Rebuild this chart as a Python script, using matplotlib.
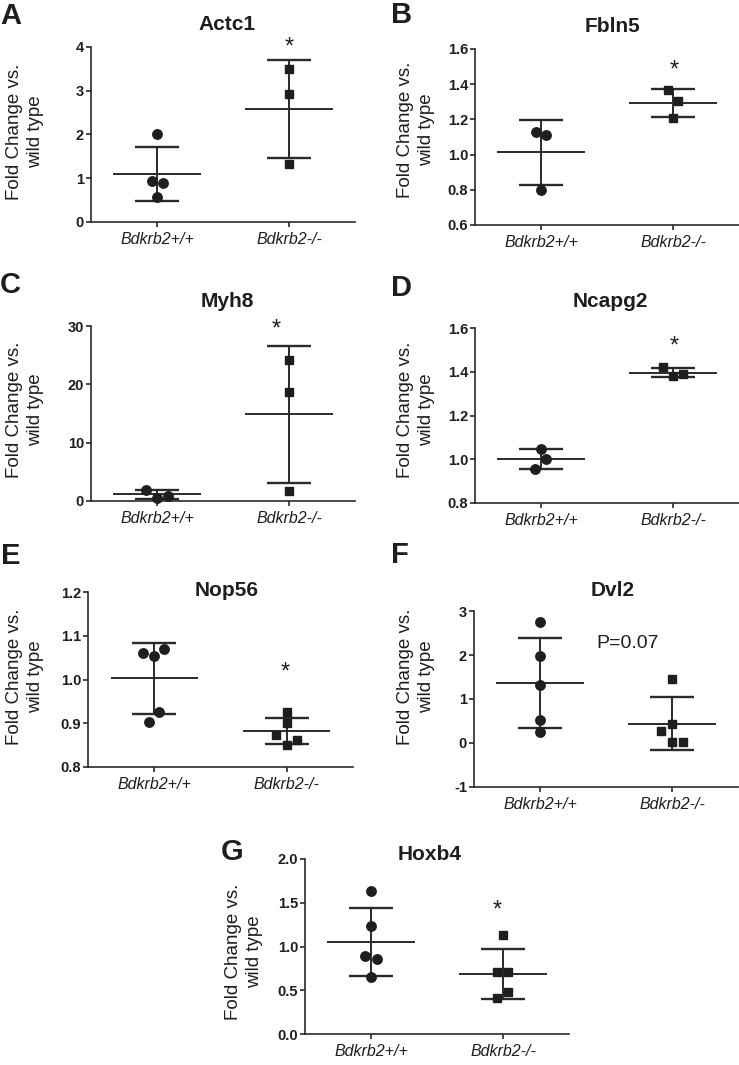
import numpy as np
import matplotlib
matplotlib.use("Agg")
import matplotlib.pyplot as plt

plt.rcParams['font.family'] = ['Liberation Sans', 'DejaVu Sans']

# ---------------- data ----------------
groups = ["Bdkrb2+/+", "Bdkrb2-/-"]
genes = ["Actc1", "Fbln5", "Myh8", "Ncapg2", "Nop56", "Dvl2", "Hoxb4"]
panel_letters = ["A", "B", "C", "D", "E", "F", "G"]

actc1_wt = [2.00, 0.93, 0.88, 0.57]
actc1_ko = [3.50, 2.93, 1.32]
fbln5_wt = [1.128, 1.112, 0.799]
fbln5_ko = [1.368, 1.307, 1.210]
myh8_wt = [1.94, 0.91, 0.51]
myh8_ko = [24.2, 18.7, 1.7]
ncapg2_wt = [1.047, 1.001, 0.955]
ncapg2_ko = [1.420, 1.379, 1.390]
nop56_wt = [1.061, 1.054, 1.070, 0.925, 0.904]
nop56_ko = [0.925, 0.900, 0.874, 0.862, 0.851]
dvl2_wt = [2.755, 1.973, 1.328, 0.531, 0.243]
dvl2_ko = [1.465, 0.425, 0.266, 0.023, 0.023]
hoxb4_wt = [1.638, 1.230, 0.888, 0.857, 0.648]
hoxb4_ko = [1.128, 0.705, 0.705, 0.476, 0.411]

y_ticks = {
    "Actc1": [0, 1, 2, 3, 4],
    "Fbln5": [0.6, 0.8, 1.0, 1.2, 1.4, 1.6],
    "Myh8": [0, 10, 20, 30],
    "Ncapg2": [0.8, 1.0, 1.2, 1.4, 1.6],
    "Nop56": [0.8, 0.9, 1.0, 1.1, 1.2],
    "Dvl2": [-1, 0, 1, 2, 3],
    "Hoxb4": [0.0, 0.5, 1.0, 1.5, 2.0],
}
y_ticklabels = {
    "Actc1": ["0", "1", "2", "3", "4"],
    "Fbln5": ["0.6", "0.8", "1.0", "1.2", "1.4", "1.6"],
    "Myh8": ["0", "10", "20", "30"],
    "Ncapg2": ["0.8", "1.0", "1.2", "1.4", "1.6"],
    "Nop56": ["0.8", "0.9", "1.0", "1.1", "1.2"],
    "Dvl2": ["-1", "0", "1", "2", "3"],
    "Hoxb4": ["0.0", "0.5", "1.0", "1.5", "2.0"],
}

# ---------------- layout (pixels) ----------------
W, H = 739, 1065
# left, top, right, bottom of each axes
axes_px = {
    "Actc1": (91, 47, 355, 222),
    "Fbln5": (475, 49, 739, 225),
    "Myh8": (91, 326, 355, 501),
    "Ncapg2": (475, 328, 739, 503),
    "Nop56": (88, 592, 353, 767),
    "Dvl2": (474, 611, 738, 787),
    "Hoxb4": (305, 859, 569, 1034),
}
title_px = {
    "Actc1": (227, 25), "Fbln5": (613, 27), "Myh8": (227, 302),
    "Ncapg2": (610, 302), "Nop56": (227, 590), "Dvl2": (613, 590),
    "Hoxb4": (430, 854),
}
ylabel_px = {
    "Actc1": (25, 132), "Fbln5": (416, 130), "Myh8": (25, 410),
    "Ncapg2": (416, 410), "Nop56": (25, 677), "Dvl2": (416, 677),
    "Hoxb4": (244, 952),
}
letter_px = {
    "A": (0, 16), "B": (391, 15), "C": (0, 285), "D": (391, 288),
    "E": (1, 556), "F": (391, 555), "G": (221, 852),
}
# horizontal scatter offsets of points (data units)
x_off = {
    "Actc1": ([0, -0.04, 0.043, 0], [0, 0, 0]),
    "Fbln5": ([-0.038, 0.04, 0], [-0.04, 0.035, 0]),
    "Myh8": ([-0.08, 0.083, 0], [0, 0, 0]),
    "Ncapg2": ([0, 0.038, -0.043], [-0.076, 0, 0.076]),
    "Nop56": ([-0.084, 0, 0.076, 0.038, -0.04], [0, 0, -0.08, 0.079, 0]),
    "Dvl2": ([0, 0, 0, 0, 0], [0, 0, -0.084, 0, 0.08]),
    "Hoxb4": ([0, 0, -0.043, 0.043, 0], [0, -0.043, 0.038, 0.038, -0.043]),
}
# significance star positions (x, y) in data units (ink centre)
star_pos = {
    "Actc1": (1.0, 4.11), "Fbln5": (1.008, 1.51), "Myh8": (0.9, 30.4),
    "Ncapg2": (1.008, 1.54), "Nop56": (0.99, 1.029), "Hoxb4": (0.958, 1.47),
}

data = {
    "Actc1": (actc1_wt, actc1_ko),
    "Fbln5": (fbln5_wt, fbln5_ko),
    "Myh8": (myh8_wt, myh8_ko),
    "Ncapg2": (ncapg2_wt, ncapg2_ko),
    "Nop56": (nop56_wt, nop56_ko),
    "Dvl2": (dvl2_wt, dvl2_ko),
    "Hoxb4": (hoxb4_wt, hoxb4_ko),
}

col = "#1e1e1e"
lcol = "#2a2a2a"

fig = plt.figure(figsize=(W / 100, H / 100), dpi=100)


def fx(x):
    return x / W


def fy(y):
    return 1 - y / H


for gene, letter in zip(genes, panel_letters):
    l, t, r, b = axes_px[gene]
    ax = fig.add_axes([l / W, 1 - b / H, (r - l) / W, (b - t) / H])
    wt, ko = data[gene]
    yt = y_ticks[gene]
    ax.set_ylim(yt[0], yt[-1])
    ax.set_xlim(-0.5, 1.5)
    for gi, (vals, marker, ms) in enumerate([(wt, 'o', 6.8), (ko, 's', 6.0)]):
        vals = np.asarray(vals, dtype=float)
        m = vals.mean()
        sd = vals.std(ddof=1)
        ax.hlines(m, gi - 0.33, gi + 0.33, color=lcol, lw=1.4, zorder=2)
        ax.hlines([m - sd, m + sd], gi - 0.165, gi + 0.165, color=lcol, lw=1.7, zorder=2)
        ax.vlines(gi, m - sd, m + sd, color=lcol, lw=1.4, zorder=2)
        xs = gi + np.asarray(x_off[gene][gi])
        ax.plot(xs, vals, linestyle='none', marker=marker, ms=ms, color=col,
                mec=col, zorder=3, clip_on=False)
    for s in ["top", "right"]:
        ax.spines[s].set_visible(False)
    for s in ["left", "bottom"]:
        ax.spines[s].set_linewidth(1.2)
        ax.spines[s].set_color(lcol)
    ax.set_yticks(yt)
    ax.set_yticklabels(y_ticklabels[gene], fontsize=10.5, fontweight='bold', color=col)
    ax.set_xticks([0, 1])
    ax.set_xticklabels(groups, fontsize=11.5, fontstyle='italic', color=col)
    ax.tick_params(axis='y', length=3.5, width=1.2, pad=1.5, color=lcol)
    ax.tick_params(axis='x', length=3.5, width=1.2, pad=4.0, color=lcol)
    ax.patch.set_alpha(0)

    if gene in star_pos:
        sx, sy = star_pos[gene]
        ax.annotate("*", (sx, sy), xytext=(0, -4), textcoords='offset points',
                    ha='center', va='center', fontsize=17, color=col,
                    annotation_clip=False)
    if gene == "Dvl2":
        ax.text(0.43, 2.27, "P=0.07", ha='left', va='center', fontsize=14, color=col)

    tx, ty = title_px[gene]
    fig.text(fx(tx), fy(ty), gene, ha='center', va='center', fontsize=15,
             fontweight='bold', color=col)
    lx, ly = ylabel_px[gene]
    fig.text(fx(lx), fy(ly), "Fold Change vs.\nwild type", rotation=90, ha='center',
             va='center', multialignment='center', fontsize=13.5, color=col,
             linespacing=1.25)
    px, py = letter_px[letter]
    fig.text(fx(px), fy(py), letter, ha='left', va='center', fontsize=21,
             fontweight='bold', color=col)

fig.savefig("out.png", dpi=100)
